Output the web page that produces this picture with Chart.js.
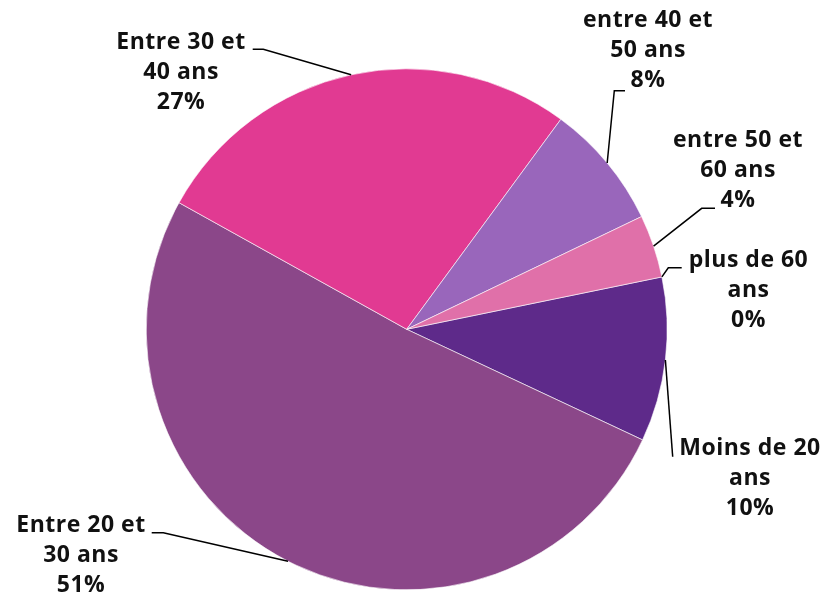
<!DOCTYPE html>
<html>
<head>
<meta charset="utf-8">
<script src="https://cdn.jsdelivr.net/npm/chart.js@4.4.1/dist/chart.umd.min.js"></script>
<style>
    html, body { margin: 0; padding: 0; background: #fff; }
    #wrap { width: 829px; height: 599px; position: relative; }
</style>
</head>
<body>
<div id="wrap"><canvas id="ageChart"></canvas></div>
<script>
// Données (en %)
const categories = ["Moins de 20 ans", "Entre 20 et 30 ans", "Entre 30 et 40 ans", "entre 40 et 50 ans", "entre 50 et 60 ans", "plus de 60 ans"];
const labelLines = [["Moins de 20", "ans"], ["Entre 20 et", "30 ans"], ["Entre 30 et", "40 ans"], ["entre 40 et", "50 ans"], ["entre 50 et", "60 ans"], ["plus de 60", "ans"]];
const values = [10.2, 51.1, 27.0, 7.8, 3.9, 0];
const colors = ["#5e2a8a", "#8b4789", "#e13a92", "#9966bb", "#e070a9", "#c0392b"];

// Position des étiquettes : centre du texte (1re ligne) et coude de la ligne de rappel
const labelLayout = [
    { x: 750, y: 448, path: [[672.7, 456.7]] },
    { x: 81, y: 525, path: [[163.3, 532.7], [151.7, 532.7]] },
    { x: 181, y: 42, path: [[263.3, 49.3], [252.7, 49.3]] },
    { x: 648, y: 20, path: [[614.3, 90.7], [625, 90.7]] },
    { x: 738, y: 140, path: [[701.7, 208.3], [715, 208.3]] },
    { x: 748.5, y: 260, path: [[668.3, 267.7], [681.7, 267.7]] }
];

const FONT = "bold 23px 'Open Sans'";
const LINE_H = 30;

// Plugin pour dessiner les étiquettes avec lignes de rappel
const calloutPlugin = {
    id: "callouts",
    afterDraw(chart) {
        const ctx = chart.ctx;
        const meta = chart.getDatasetMeta(0);
        const total = values.reduce((a, b) => a + b, 0);
        ctx.save();
        meta.data.forEach((arc, i) => {
            const mid = (arc.startAngle + arc.endAngle) / 2;
            const ax = arc.x + Math.cos(mid) * arc.outerRadius;
            const ay = arc.y + Math.sin(mid) * arc.outerRadius;
            const lay = labelLayout[i];

            ctx.strokeStyle = "#000";
            ctx.lineWidth = 1.5;
            ctx.beginPath();
            ctx.moveTo(ax, ay);
            lay.path.forEach(p => ctx.lineTo(p[0], p[1]));
            ctx.stroke();

            const pct = Math.round(values[i] / total * 100) + "%";
            const lines = labelLines[i].concat([pct]);
            ctx.fillStyle = "#111";
            ctx.font = FONT;
            ctx.letterSpacing = "0.5px";
            ctx.textAlign = "center";
            ctx.textBaseline = "middle";
            lines.forEach((t, k) => ctx.fillText(t, lay.x, lay.y + k * LINE_H));
        });
        ctx.restore();
    }
};

function createChart() {
    const ctx = document.getElementById("ageChart").getContext("2d");
    new Chart(ctx, {
        type: "pie",
        data: {
            labels: categories,
            datasets: [{
                data: values,
                backgroundColor: colors,
                borderColor: "rgba(255,255,255,0.6)",
                borderWidth: 1
            }]
        },
        options: {
            responsive: true,
            maintainAspectRatio: false,
            animation: false,
            rotation: 78.4,
            layout: { padding: { top: 68.3, bottom: 8.7, left: 145.7, right: 161.3 } },
            plugins: {
                legend: { display: false },
                tooltip: { enabled: false }
            }
        },
        plugins: [calloutPlugin]
    });
}

document.addEventListener("DOMContentLoaded", createChart);
</script>
</body>
</html>
